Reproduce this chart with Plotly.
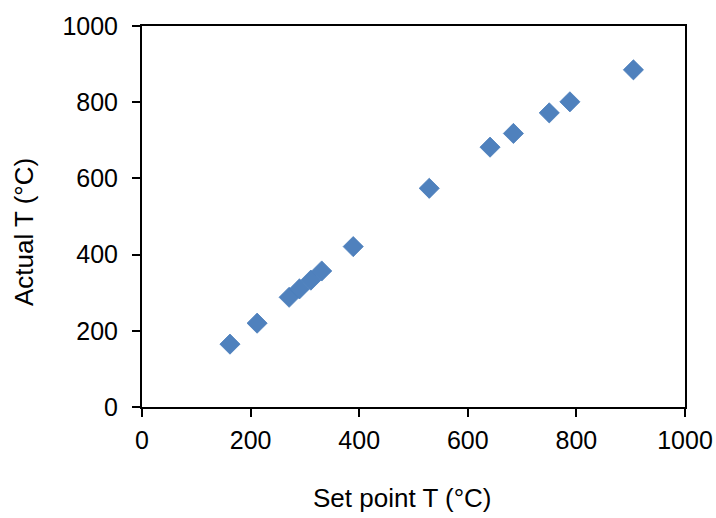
import plotly.graph_objects as go

# Set point vs. measured temperature (°C)
set_point_t = [162, 212, 271, 290, 311, 331, 389, 529, 641, 684, 750, 788, 905]
actual_t = [165, 220, 288, 310, 333, 357, 421, 574, 682, 718, 772, 801, 885]

x_ticks = [0, 200, 400, 600, 800, 1000]
y_ticks = [0, 200, 400, 600, 800, 1000]

FONT = "Liberation Sans, Arial, sans-serif"
W, H = 716, 518
L, R, T, B = 142, 31, 26, 111
PW, PH = W - L - R, H - T - B

fig = go.Figure()
fig.add_trace(go.Scatter(
    x=set_point_t, y=actual_t, mode="markers",
    marker=dict(symbol="diamond", size=15.5, color="#4F81BD",
                line=dict(color="#4A7EBB", width=0.8)),
    showlegend=False,
))

axis_common = dict(
    showgrid=False, zeroline=False, automargin=False,
    showline=True, linecolor="black", linewidth=2, mirror=True,
    ticks="outside", ticklen=8, tickwidth=2, tickcolor="black",
    tickfont=dict(family=FONT, size=25, color="black"),
)

fig.update_layout(
    width=W, height=H,
    margin=dict(l=L, r=R, t=T, b=B, pad=0, autoexpand=False),
    paper_bgcolor="white", plot_bgcolor="white",
    font=dict(family=FONT, size=25, color="black"),
    xaxis=dict(range=[0, 1000], tickvals=x_ticks, ticklabelstandoff=2, **axis_common),
    yaxis=dict(range=[0, 1000], tickvals=y_ticks, ticklabelstandoff=9, **axis_common),
    annotations=[
        dict(text="Set point T (°C)", xref="paper", yref="paper",
             x=(402.5 - L) / PW, y=-(498 - (T + PH)) / PH,
             xanchor="center", yanchor="middle", showarrow=False,
             font=dict(family=FONT, size=26, color="black")),
        dict(text="Actual T (°C)", xref="paper", yref="paper",
             x=-(L - 24) / PW, y=((T + PH) - 232) / PH,
             xanchor="center", yanchor="middle", textangle=-90, showarrow=False,
             font=dict(family=FONT, size=26, color="black")),
    ],
)

fig.write_html("out.html")
